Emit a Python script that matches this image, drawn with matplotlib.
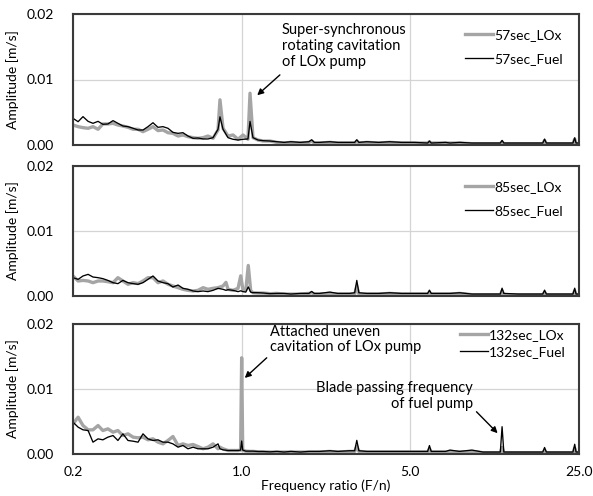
"""Three stacked vibration spectra (LOx vs fuel pump) on a log frequency-ratio axis."""
import matplotlib
matplotlib.use("Agg")
import matplotlib.pyplot as plt
from matplotlib.ticker import NullLocator

plt.rcParams["font.family"] = ["Lato", "DejaVu Sans"]

GRAY = "#a5a5a5"
BLACK = "#000000"
SPINE = "#3a3a3a"
GRID = "#d4d4d4"

# ---- data ------------------------------------------------------------------
HIGH_F = [1.40, 1.50, 1.60, 1.75, 1.90, 1.95, 2.00, 2.10, 2.32, 2.50, 2.80, 2.94, 3.00, 3.06,
          3.30, 3.70, 4.10, 4.60, 5.20, 5.90, 6.00, 6.10, 7.0, 7.3, 8.0, 9.0, 10.0, 11.0,
          11.8, 12.0, 12.2, 14.0, 16.0, 17.7, 18.0, 18.3, 21.0, 23.6, 24.0, 24.3, 25.0]

LOW_F1 = [0.200, 0.210, 0.220, 0.231, 0.242, 0.254, 0.266, 0.279, 0.293, 0.307, 0.322, 0.338,
          0.355, 0.372, 0.390, 0.409, 0.429, 0.450, 0.472, 0.495, 0.519, 0.545, 0.571, 0.599,
          0.629, 0.659, 0.692, 0.725, 0.761, 0.798, 0.813, 0.837, 0.878, 0.921, 0.966, 1.013,
          1.062, 1.083, 1.114, 1.169, 1.226, 1.311]
lox_57_low = [0.00305, 0.0028, 0.00265, 0.00255, 0.0028, 0.0024, 0.00321, 0.00321, 0.00331,
              0.00305, 0.0029, 0.0027, 0.0024, 0.0024, 0.00204, 0.0024, 0.0028, 0.0022, 0.00229,
              0.00188, 0.00178, 0.00137, 0.00153, 0.00127, 0.00112, 0.00102, 0.00112, 0.00137,
              0.00102, 0.00229, 0.0069, 0.00255, 0.00137, 0.00153, 0.00087, 0.00153, 0.00087,
              0.0079, 0.00112, 0.00076, 0.00061, 0.00061]
fuel_57_low = [0.00407, 0.00356, 0.00433, 0.00361, 0.00331, 0.00361, 0.00316, 0.00321, 0.00372,
               0.00331, 0.0029, 0.0028, 0.00255, 0.00229, 0.00229, 0.0028, 0.0034, 0.0027, 0.0028,
               0.00255, 0.00193, 0.00178, 0.00188, 0.00137, 0.00102, 0.00107, 0.00092, 0.00092,
               0.00112, 0.0024, 0.0043, 0.0024, 0.00112, 0.00087, 0.00076, 0.00087, 0.00092,
               0.0036, 0.00112, 0.00076, 0.00066, 0.00061]
lox_57_high = [0.0004, 0.0003, 0.0004, 0.0003, 0.0004, 0.0006, 0.0003, 0.0003, 0.0004, 0.0003,
               0.0003, 0.0003, 0.0006, 0.0003, 0.0004, 0.0003, 0.0004, 0.0003, 0.0003, 0.0003,
               0.0005, 0.0003, 0.0003, 0.0003, 0.0003, 0.0002, 0.0002, 0.0002, 0.0002, 0.0005,
               0.0002, 0.0002, 0.0002, 0.0002, 0.0007, 0.0002, 0.0002, 0.0002, 0.0009, 0.0002,
               0.0002]
fuel_57_high = [0.0005, 0.0004, 0.0005, 0.0004, 0.0005, 0.0008, 0.0004, 0.0004, 0.0005, 0.0004,
                0.0004, 0.0004, 0.0008, 0.0004, 0.0005, 0.0004, 0.0005, 0.0004, 0.0004, 0.0003,
                0.0006, 0.0003, 0.0004, 0.0003, 0.0004, 0.0003, 0.0003, 0.0003, 0.0003, 0.0007,
                0.0003, 0.0003, 0.0003, 0.0003, 0.0009, 0.0003, 0.0003, 0.0003, 0.0011, 0.0003,
                0.0003]

LOW_F2 = [0.200, 0.210, 0.220, 0.231, 0.242, 0.254, 0.266, 0.279, 0.293, 0.307, 0.322, 0.338,
          0.355, 0.372, 0.390, 0.409, 0.429, 0.450, 0.472, 0.495, 0.519, 0.545, 0.571, 0.599,
          0.629, 0.659, 0.692, 0.725, 0.761, 0.798, 0.837, 0.861, 0.878, 0.921, 0.966, 0.991,
          1.013, 1.040, 1.065, 1.090, 1.114, 1.169, 1.226, 1.311]
lox_85_low = [0.00308, 0.00231, 0.0024, 0.00231, 0.00205, 0.00231, 0.00231, 0.0022, 0.00205,
              0.00282, 0.00231, 0.0018, 0.00205, 0.0019, 0.00231, 0.00282, 0.00282, 0.00205,
              0.00231, 0.0018, 0.00154, 0.00128, 0.00103, 0.00087, 0.00077, 0.00087, 0.00128,
              0.00103, 0.00118, 0.00128, 0.00154, 0.0021, 0.00103, 0.00087, 0.00118, 0.0031,
              0.00087, 0.00087, 0.0047, 0.0008, 0.00051, 0.00046, 0.00046, 0.00036]
fuel_85_low = [0.00282, 0.00256, 0.00308, 0.00333, 0.00292, 0.00282, 0.00267, 0.0024, 0.00205,
               0.0019, 0.0024, 0.00205, 0.0019, 0.0018, 0.00205, 0.00256, 0.00308, 0.00231,
               0.00205, 0.0019, 0.00138, 0.00169, 0.00118, 0.00103, 0.00077, 0.00067, 0.00077,
               0.00067, 0.00087, 0.00118, 0.00103, 0.00087, 0.00097, 0.00087, 0.00067, 0.0008,
               0.00067, 0.0006, 0.0014, 0.0006, 0.00051, 0.00051, 0.00046, 0.00036]
lox_85_high = [0.0004, 0.0003, 0.0003, 0.0003, 0.0004, 0.0005, 0.0003, 0.0003, 0.0004, 0.0003,
               0.0003, 0.0003, 0.0015, 0.0003, 0.0003, 0.0003, 0.0004, 0.0003, 0.0003, 0.0003,
               0.0006, 0.0003, 0.0003, 0.0003, 0.0004, 0.0002, 0.0002, 0.0002, 0.0002, 0.0008,
               0.0002, 0.0002, 0.0002, 0.0002, 0.0006, 0.0002, 0.0002, 0.0002, 0.0008, 0.0002,
               0.0002]
fuel_85_high = [0.0004, 0.0004, 0.0003, 0.0004, 0.0004, 0.0007, 0.0004, 0.0004, 0.0006, 0.0004,
                0.0004, 0.0005, 0.0024, 0.0005, 0.0004, 0.0004, 0.0005, 0.0004, 0.0004, 0.0004,
                0.0009, 0.0004, 0.0004, 0.0004, 0.0005, 0.0003, 0.0003, 0.0003, 0.0003, 0.0012,
                0.0004, 0.0003, 0.0003, 0.0003, 0.0009, 0.0003, 0.0003, 0.0003, 0.0012, 0.0003,
                0.0003]

LOW_F3 = [0.200, 0.210, 0.220, 0.231, 0.242, 0.254, 0.266, 0.279, 0.293, 0.307, 0.322, 0.338,
          0.355, 0.372, 0.390, 0.409, 0.429, 0.450, 0.472, 0.495, 0.519, 0.545, 0.571, 0.599,
          0.629, 0.659, 0.692, 0.725, 0.761, 0.798, 0.813, 0.837, 0.878, 0.921, 0.966, 0.990,
          1.000, 1.010, 1.040, 1.083, 1.114, 1.169, 1.226, 1.311]
lox_132_low = [0.00464, 0.00566, 0.00438, 0.00372, 0.00372, 0.00438, 0.00361, 0.00387, 0.00336,
               0.00361, 0.00284, 0.0031, 0.00259, 0.00249, 0.00259, 0.00218, 0.00233, 0.00182,
               0.00156, 0.00208, 0.00269, 0.00131, 0.00156, 0.00131, 0.00146, 0.00115, 0.0008,
               0.00105, 0.00156, 0.0008, 0.00105, 0.0008, 0.00054, 0.00054, 0.00054, 0.0006,
               0.0148, 0.0006, 0.00044, 0.0004, 0.0004, 0.00035, 0.00035, 0.0003]
fuel_132_low = [0.0049, 0.00413, 0.00372, 0.00361, 0.00182, 0.00233, 0.00218, 0.00259, 0.00284,
                0.00208, 0.0031, 0.00208, 0.00197, 0.00182, 0.0031, 0.00233, 0.00208, 0.00218,
                0.00182, 0.00182, 0.00156, 0.00105, 0.00131, 0.0008, 0.00105, 0.0008, 0.0008,
                0.0008, 0.00105, 0.00156, 0.0008, 0.00064, 0.00054, 0.00054, 0.00054, 0.0006,
                0.0020, 0.0006, 0.00044, 0.00044, 0.00044, 0.00038, 0.00038, 0.00033]
lox_132_high = [0.0003, 0.0003, 0.0003, 0.0003, 0.0003, 0.0003, 0.0003, 0.0003, 0.0004, 0.0003,
                0.0004, 0.0004, 0.0012, 0.0004, 0.0003, 0.0003, 0.0003, 0.0003, 0.0003, 0.0003,
                0.0008, 0.0003, 0.0003, 0.0004, 0.0003, 0.0004, 0.0002, 0.0002, 0.0002, 0.0010,
                0.0002, 0.0002, 0.0002, 0.0002, 0.0006, 0.0002, 0.0002, 0.0002, 0.0009, 0.0002,
                0.0002]
fuel_132_high = [0.0004, 0.0003, 0.0004, 0.0003, 0.0004, 0.0004, 0.0004, 0.0004, 0.0005, 0.0004,
                 0.0005, 0.0005, 0.0021, 0.0005, 0.0004, 0.0004, 0.0004, 0.0004, 0.0004, 0.0004,
                 0.0013, 0.0004, 0.0004, 0.0006, 0.0004, 0.0006, 0.0003, 0.0003, 0.0003, 0.0042,
                 0.0003, 0.0003, 0.0003, 0.0003, 0.0010, 0.0003, 0.0003, 0.0003, 0.0015, 0.0003,
                 0.0003]

PANELS = [
    ("57sec", LOW_F1, lox_57_low, fuel_57_low, lox_57_high, fuel_57_high),
    ("85sec", LOW_F2, lox_85_low, fuel_85_low, lox_85_high, fuel_85_high),
    ("132sec", LOW_F3, lox_132_low, fuel_132_low, lox_132_high, fuel_132_high),
]
X_TICKS = [0.2, 1.0, 5.0, 25.0]
X_TICK_LABELS = ["0.2", "1.0", "5.0", "25.0"]
Y_TICKS = [0.0, 0.01, 0.02]
Y_TICK_LABELS = ["0.00", "0.01", "0.02"]

# ---- layout (pixels of a 593x496 canvas) -----------------------------------
W, H = 593, 496
LEFT, RIGHT = 73, 579
PANEL_TB = [(14, 145), (166, 296), (324, 454)]
LEGEND_POS = [(0.968, 0.885, 0.85), (0.968, 0.885, 0.85), (0.974, 0.96, 0.32)]
FS = 10

fig = plt.figure(figsize=(W / 100, H / 100), dpi=100)
axes = []
for i, (name, lf, lox_l, fuel_l, lox_h, fuel_h) in enumerate(PANELS):
    top, bot = PANEL_TB[i]
    ax = fig.add_axes([LEFT / W, 1 - bot / H, (RIGHT - LEFT) / W, (bot - top) / H])
    axes.append(ax)
    ax.plot(lf + HIGH_F, lox_l + lox_h, color=GRAY, lw=2.4, label=f"{name}_LOx",
            solid_joinstyle="round", zorder=3)
    ax.plot(lf + HIGH_F, fuel_l + fuel_h, color=BLACK, lw=0.95, label=f"{name}_Fuel", zorder=4)

    ax.set_xscale("log")
    ax.set_xlim(0.2, 25)
    ax.set_ylim(0, 0.02)
    ax.set_xticks(X_TICKS)
    ax.xaxis.set_minor_locator(NullLocator())
    ax.set_yticks(Y_TICKS)
    ax.set_yticklabels(Y_TICK_LABELS, fontsize=FS)
    if i == 2:
        ax.set_xticklabels(X_TICK_LABELS, fontsize=FS)
        ax.set_xlabel("Frequency ratio (F/n)", fontsize=FS, labelpad=1)
    else:
        ax.set_xticklabels([])
    ax.tick_params(length=0, pad=14)
    ax.tick_params(axis="x", pad=9)
    ax.grid(True, color=GRID, lw=0.9, zorder=0)
    ax.set_axisbelow(True)
    for s in ax.spines.values():
        s.set_color(SPINE)
        s.set_linewidth(1.5)
        s.set_zorder(5)
    ax.set_ylabel("Amplitude [m/s]", fontsize=FS, labelpad=5)

    lx, ly, lsp = LEGEND_POS[i]
    ax.legend(loc="upper right", bbox_to_anchor=(lx, ly), frameon=False, fontsize=FS,
              handlelength=2.0, handletextpad=0.1, labelspacing=lsp, borderpad=0,
              borderaxespad=0)

# ---- annotations -----------------------------------------------------------
arrow = dict(arrowstyle="-|>", color=BLACK, lw=1.0, mutation_scale=9, shrinkA=0, shrinkB=0)

ax = axes[0]
ax.text(0.413, 0.935, "Super-synchronous\nrotating cavitation\nof LOx pump", transform=ax.transAxes,
        ha="left", va="top", fontsize=FS + 0.5, linespacing=1.2)
ax.annotate("", xy=(1.16, 0.0076), xytext=(1.44, 0.0107), arrowprops=arrow)

ax = axes[2]
ax.text(0.389, 0.99, "Attached uneven\ncavitation of LOx pump", transform=ax.transAxes,
        ha="left", va="top", fontsize=FS + 0.5, linespacing=1.1)
ax.annotate("", xy=(1.03, 0.0117), xytext=(1.27, 0.0148), arrowprops=arrow)
ax.text(0.79, 0.56, "Blade passing frequency\nof fuel pump", transform=ax.transAxes,
        ha="right", va="top", fontsize=FS + 0.5, linespacing=1.15)
ax.annotate("", xy=(11.5, 0.0032), xytext=(9.4, 0.0065), arrowprops=arrow)

fig.savefig("out.png", dpi=100)
